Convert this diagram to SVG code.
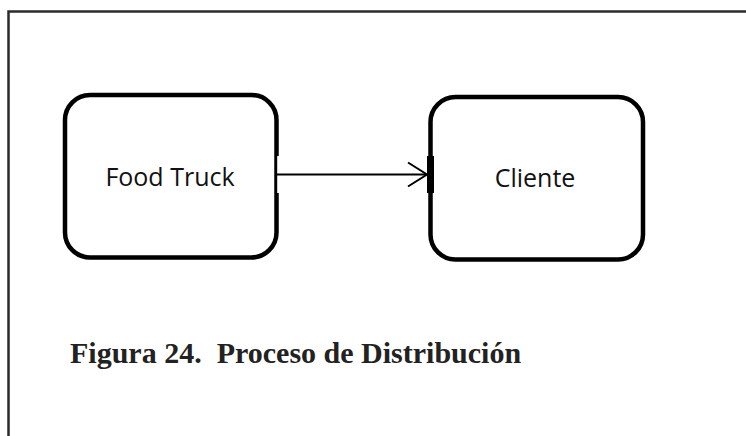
<svg xmlns="http://www.w3.org/2000/svg" width="746" height="436" viewBox="0 0 746 436">
  <style>
    .frame { fill: none; stroke: #2b2b2b; stroke-width: 2.5; }
    .box { fill: #ffffff; stroke: #000000; stroke-width: 4.5; }
    .label { font-family: "Open Sans", "Noto Sans", sans-serif; font-size: 25px; fill: #111111; text-anchor: middle; }
    .link { fill: none; stroke: #000000; stroke-width: 2; }
    .caption { font-family: "Liberation Serif", "Times New Roman", serif; font-size: 30px; font-weight: bold; fill: #222222; }
  </style>

  <rect width="746" height="436" fill="#ffffff"/>

  <!-- page frame, open to the right and bottom -->
  <path class="frame" d="M8.5,440 V11.5 H750"/>

  <g id="food-truck">
    <rect class="box" x="65" y="95" width="211.5" height="162.5" rx="25" ry="25"/>
    <!-- connection point on the right edge -->
    <rect x="277.2" y="156" width="2.5" height="37" fill="#ffffff"/>
    <text class="label" x="170" y="186">Food Truck</text>
  </g>

  <g id="cliente">
    <rect class="box" x="430.5" y="97" width="212.5" height="162.5" rx="25" ry="25"/>
    <!-- connection point on the left edge -->
    <rect x="427" y="156" width="7" height="37" fill="#000000"/>
    <text class="label" x="535" y="187">Cliente</text>
  </g>

  <g id="connectors">
    <path class="link" d="M277,174.5 H428"/>
    <path class="link" d="M408,162.5 L427,174.5 L408,186.5"/>
  </g>

  <text class="caption" x="70" y="362.5" xml:space="preserve">Figura 24.  Proceso de Distribución</text>
</svg>
